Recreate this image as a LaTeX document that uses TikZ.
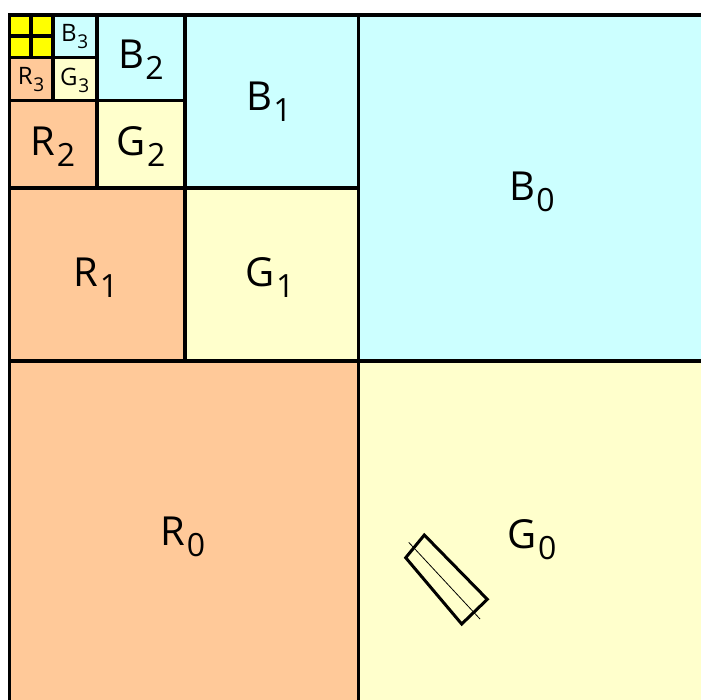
\documentclass[tikz,border=0pt]{standalone}
\usepackage{fontspec}
\setmainfont{Open Sans}
\definecolor{colR}{HTML}{FFC999}
\definecolor{colG}{HTML}{FFFFCC}
\definecolor{colB}{HTML}{CCFFFF}
\definecolor{colY}{HTML}{FFFF00}
\newcommand{\biglab}[2]{#1\kern0.03em\raisebox{-11pt}{\fontsize{32}{32}\selectfont #2}}
\newcommand{\smalllab}[2]{#1\kern0.03em\raisebox{-7pt}{\fontsize{19}{19}\selectfont #2}}
\begin{document}
\begin{tikzpicture}[x=1pt,y=-1pt,
  cellbox/.style={line width=3.6pt,draw=black},
  lab/.style={font=\fontsize{40}{40}\selectfont, inner sep=0pt},
  slab/.style={font=\fontsize{24}{24}\selectfont, inner sep=0pt}]
\useasboundingbox (0,0) rectangle (701,699);
\begin{scope}
\clip (0,0) rectangle (701,699);
% level 0
\filldraw[cellbox,fill=colR] (9.5,361) rectangle (358.5,707);
\filldraw[cellbox,fill=colG] (358.5,361) rectangle (707.5,707);
\filldraw[cellbox,fill=colB] (358.5,14.7) rectangle (707.5,361);
% level 1
\filldraw[cellbox,fill=colR] (9.5,188) rectangle (185,361);
\filldraw[cellbox,fill=colG] (185,188) rectangle (358.5,361);
\filldraw[cellbox,fill=colB] (185,14.7) rectangle (358.5,188);
% level 2
\filldraw[cellbox,fill=colR] (9.5,100.3) rectangle (96.7,188);
\filldraw[cellbox,fill=colG] (96.7,100.3) rectangle (185,188);
\filldraw[cellbox,fill=colB] (96.7,14.7) rectangle (185,100.3);
% level 3
\filldraw[cellbox,fill=colR] (9.5,57.3) rectangle (52.7,100.3);
\filldraw[cellbox,fill=colG] (52.7,57.3) rectangle (96.7,100.3);
\filldraw[cellbox,fill=colB] (52.7,14.7) rectangle (96.7,57.3);
% yellow 2x2
\filldraw[cellbox,fill=colY] (9.5,14.7) rectangle (52.7,57.3);
\draw[line width=3.6pt] (31.1,14.7) -- (31.1,57.3);
\draw[line width=3.6pt] (9.5,36) -- (52.7,36);
\end{scope}
% labels
\node[lab] (r0) at (183,537) {\biglab{R}{0}};
\node[lab] (g0) at (532,540) {\biglab{G}{0}};
\node[lab] (b0) at (532,192) {\biglab{B}{0}};
\node[lab] (r1) at (96,278) {\biglab{R}{1}};
\node[lab] (g1) at (270,278) {\biglab{G}{1}};
\node[lab] (b1) at (269,102) {\biglab{B}{1}};
\node[lab] (r2) at (53,147) {\biglab{R}{2}};
\node[lab] (g2) at (141,147) {\biglab{G}{2}};
\node[lab] (b2) at (141,60) {\biglab{B}{2}};
\node[slab] (r3) at (31,80) {\smalllab{R}{3}};
\node[slab] (g3) at (74.7,80) {\smalllab{G}{3}};
\node[slab] (b3) at (74.7,37) {\smalllab{B}{3}};
% tilted rectangle in G0
\draw[line width=3pt,line join=miter] (424.3,535) -- (487.3,599.3) -- (461.7,624) -- (405.7,557.7) -- cycle;
\draw[line width=0.8pt] (408.7,542.3) -- (480,619);
\end{tikzpicture}
\end{document}
